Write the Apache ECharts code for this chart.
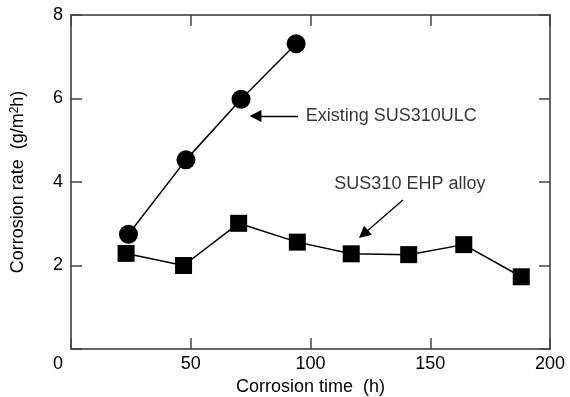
<!DOCTYPE html>
<html>
<head>
<meta charset="utf-8">
<script src="https://cdn.jsdelivr.net/npm/echarts@6/dist/echarts.min.js"></script>
<style>
  html, body { margin: 0; padding: 0; background: #fff; }
  #chart { width: 570px; height: 397px; }
</style>
</head>
<body>
<div id="chart"></div>
<script>
// values
const ulcTime = [24, 48, 71, 94];
const ulcRate = [2.75, 4.53, 5.98, 7.31];
const ehpTime = [23, 47, 70, 94.5, 117, 141, 164, 188];
const ehpRate = [2.29, 2.0, 3.01, 2.56, 2.28, 2.26, 2.5, 1.73];

const xTicks = [0, 50, 100, 150, 200];
const yTicks = [0, 2, 4, 6, 8];

// annotation arrows: [from, to] in data coords, text anchor in data coords
const ulcArrow = [[94.8, 5.58], [77.0, 5.58]];
const ulcNote = [98.0, 5.58];
const ehpArrow = [[138.6, 3.57], [122.1, 2.75]];
const ehpNote = [141.5, 3.95];

const FONT = '"Liberation Sans", Arial, sans-serif';
const INK = '#000';
const FS = 18;

const chart = echarts.init(document.getElementById('chart'));

function pairs(xs, ys) { return xs.map((x, i) => [x, ys[i]]); }

const frameAxis = (extra) => Object.assign({
  type: 'value',
  axisLine: { show: true, onZero: false, lineStyle: { color: '#333', width: 1.5 } },
  axisTick: { show: true, inside: true, length: 11, lineStyle: { color: '#444', width: 1.5 } },
  splitLine: { show: false }
}, extra);

const option = {
  animation: false,
  textStyle: { fontFamily: FONT },
  grid: { left: 71, right: 20, top: 15, bottom: 48, containLabel: false, outerBoundsMode: 'none' },
  xAxis: [
    frameAxis({
      min: xTicks[0], max: xTicks[xTicks.length - 1], interval: 50,
      position: 'bottom',
      name: 'Corrosion time  (h)',
      nameLocation: 'middle',
      nameGap: 29,
      nameTextStyle: { fontSize: FS, color: INK, fontFamily: FONT },
      axisLabel: {
        margin: 6, fontSize: FS, color: INK, fontFamily: FONT,
        formatter: v => v === 0 ? '{z|0}' : String(v),
        rich: { z: { fontSize: FS, color: INK, fontFamily: FONT, padding: [0, 26, 0, 0] } }
      }
    }),
    frameAxis({
      min: xTicks[0], max: xTicks[xTicks.length - 1], interval: 50,
      position: 'top', axisLabel: { show: false }
    })
  ],
  yAxis: [
    frameAxis({
      min: yTicks[0], max: yTicks[yTicks.length - 1], interval: 2,
      position: 'left',
      name: '{a|Corrosion rate  (g/m}{s|2}{a|h)}',
      nameLocation: 'middle',
      nameGap: 44,
      nameTextStyle: {
        rich: {
          a: { fontSize: FS, color: INK, fontFamily: FONT },
          s: { fontSize: 12, color: INK, fontFamily: FONT, verticalAlign: 'top', padding: [0, 0, 6, 0] }
        }
      },
      axisLabel: {
        margin: 8, fontSize: FS, color: INK, fontFamily: FONT,
        formatter: v => v === 0 ? '' : String(v)
      }
    }),
    frameAxis({
      min: yTicks[0], max: yTicks[yTicks.length - 1], interval: 2,
      position: 'right', axisLabel: { show: false }
    })
  ],
  series: [
    {
      name: 'Existing SUS310ULC',
      type: 'line',
      data: pairs(ulcTime, ulcRate),
      symbol: 'circle',
      symbolSize: 19,
      itemStyle: { color: INK },
      lineStyle: { color: INK, width: 1.5 },
      z: 3
    },
    {
      name: 'SUS310 EHP alloy',
      type: 'line',
      data: pairs(ehpTime, ehpRate),
      symbol: 'rect',
      symbolSize: 17,
      itemStyle: { color: INK },
      lineStyle: { color: INK, width: 1.5 },
      z: 3
    },
    {
      // annotation arrows + labels
      name: 'notes',
      type: 'scatter',
      symbolSize: 0,
      silent: true,
      data: [
        { value: ulcNote, label: { show: true, formatter: 'Existing SUS310ULC', position: 'right', distance: 0 } },
        { value: ehpNote, label: { show: true, formatter: 'SUS310 EHP alloy', position: 'inside' } }
      ],
      label: { fontSize: FS, color: INK, fontFamily: FONT },
      markLine: {
        silent: true,
        animation: false,
        symbol: ['none', 'triangle'],
        symbolSize: 12,
        label: { show: false },
        lineStyle: { color: INK, width: 1.3, type: 'solid' },
        data: [
          [{ coord: ulcArrow[0] }, { coord: ulcArrow[1] }],
          [{ coord: ehpArrow[0] }, { coord: ehpArrow[1] }]
        ]
      }
    }
  ]
};

chart.setOption(option);
</script>
</body>
</html>
